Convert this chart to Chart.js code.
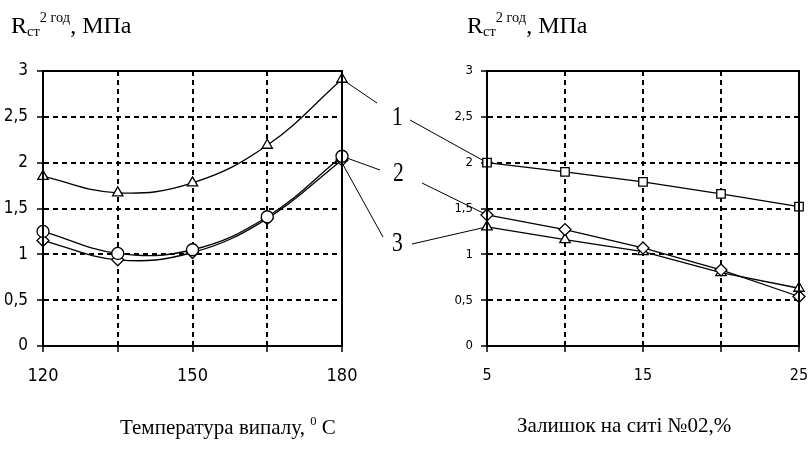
<!DOCTYPE html>
<html>
<head>
<meta charset="utf-8">
<script src="https://cdn.jsdelivr.net/npm/chart.js@4/dist/chart.umd.min.js"></script>
<style>
  body { margin: 0; background: #fff; }
  #wrap { position: relative; width: 811px; height: 449px; overflow: hidden; }
  #wrap canvas { position: absolute; left: 0; top: 0; }
  .txt { position: absolute; font-family: 'Liberation Serif', 'Times New Roman', serif; color: #000; white-space: nowrap; line-height: 1; }
  .txt sub { font-size: 0.6em; vertical-align: -0.25em; }
  .txt sup { font-size: 0.6em; vertical-align: 0.75em; }
  .ylab { font-size: 24px; top: 10px; }
  .xlab { font-size: 21px; top: 415px; }
  .num { font-size: 27px; transform: scaleX(0.8); transform-origin: left top; }
</style>
</head>
<body>
<div id="wrap">
  <canvas id="tempChart" width="811" height="449"></canvas>
  <canvas id="sieveChart" width="811" height="449"></canvas>
  <div class="txt ylab" style="left:11px">R<sub>ст</sub><sup>2 год</sup>, МПа</div>
  <div class="txt ylab" style="left:467px">R<sub>ст</sub><sup>2 год</sup>, МПа</div>
  <div class="txt xlab" style="left:120px">Температура випалу, <sup>0</sup> С</div>
  <div class="txt xlab" style="left:517px">Залишок на ситі №02,%</div>
  <div class="txt num" style="left:392px;top:103px">1</div>
  <div class="txt num" style="left:393px;top:159px">2</div>
  <div class="txt num" style="left:392px;top:229px">3</div>
</div>
<script>
// firing temperature, °C
const tempX = [120, 135, 150, 165, 180];
const tempCurve1 = [1.85, 1.67, 1.78, 2.19, 2.91];
const tempCurve2 = [1.25, 1.01, 1.05, 1.41, 2.07];
const tempCurve3 = [1.15, 0.94, 1.02, 1.39, 2.03];
const tempTickLabels = [120, 150, 180];

// residue on sieve No 02, %
const sieveX = [5, 10, 15, 20, 25];
const sieveCurve1 = [2.0, 1.9, 1.79, 1.66, 1.52];
const sieveCurve2 = [1.43, 1.27, 1.07, 0.83, 0.54];
const sieveCurve3 = [1.30, 1.16, 1.03, 0.80, 0.63];
const sieveTickLabels = [5, 15, 25];

const strengthTicks = [0, 0.5, 1, 1.5, 2, 2.5, 3];

const tickFont = "'Liberation Sans Narrow', 'DejaVu Sans Condensed', sans-serif";

function series(xs, ys, style, tension) {
    return {
        data: xs.map((x, i) => ({ x: x, y: ys[i] })),
        borderColor: '#000',
        borderWidth: 1.3,
        tension: tension,
        clip: false,
        pointStyle: style,
        pointRadius: 6,
        pointBorderWidth: 1.3,
        pointBorderColor: '#000',
        pointBackgroundColor: '#fff'
    };
}

// solid frame round the plot area, drawn over the markers
const framePlugin = {
    id: 'frame',
    afterDatasetsDraw(chart) {
        const a = chart.chartArea, ctx = chart.ctx;
        ctx.save();
        ctx.strokeStyle = '#000';
        ctx.lineWidth = 2;
        ctx.strokeRect(a.left, a.top, a.right - a.left, a.bottom - a.top);
        ctx.restore();
    }
};

// thin leader lines from the curve ends to the numbers 1, 2, 3
const leaderPlugin = {
    id: 'leaders',
    beforeDatasetsDraw(chart, args, opts) {
        const ctx = chart.ctx;
        ctx.save();
        ctx.strokeStyle = '#000';
        ctx.lineWidth = 1;
        opts.lines.forEach(l => {
            const pt = chart.getDatasetMeta(l.ds).data[l.idx];
            ctx.beginPath();
            ctx.moveTo(pt.x, pt.y + (l.dy || 0));
            ctx.lineTo(l.to[0], l.to[1]);
            ctx.stroke();
        });
        ctx.restore();
    }
};

function scales(xs, xLabels, xSize, ySize, yPad) {
    return {
        x: {
            type: 'linear',
            min: xs[0],
            max: xs[xs.length - 1],
            afterBuildTicks: s => { s.ticks = xs.map(v => ({ value: v })); },
            // keep the end labels from pushing the plot area inwards
            afterFit: s => { s.height = 40; s.paddingLeft = 0; s.paddingRight = 0; },
            ticks: {
                autoSkip: false,
                maxRotation: 0,
                padding: 14,
                color: '#000',
                font: { family: tickFont, size: xSize },
                callback: v => xLabels.includes(v) ? String(v) : ''
            },
            grid: { color: '#000', lineWidth: 2, tickLength: 6, tickWidth: 1.5, tickColor: '#000' },
            border: { color: '#000', width: 2, dash: [5, 4] }
        },
        y: {
            min: 0,
            max: 3,
            afterBuildTicks: s => { s.ticks = strengthTicks.map(v => ({ value: v })); },
            afterFit: s => { s.width = 38; },
            ticks: {
                padding: yPad,
                color: '#000',
                font: { family: tickFont, size: ySize },
                callback: v => String(v).replace('.', ',')
            },
            grid: { color: '#000', lineWidth: 2, tickLength: 6, tickWidth: 1.5, tickColor: '#000' },
            border: { color: '#000', width: 2, dash: [5, 4] }
        }
    };
}

const commonPlugins = {
    legend: { display: false },
    tooltip: { enabled: false }
};

new Chart(document.getElementById('tempChart'), {
    type: 'line',
    data: {
        datasets: [
            series(tempX, tempCurve1, 'triangle', 0.4),
            series(tempX, tempCurve2, 'circle', 0.4),
            series(tempX, tempCurve3, 'rectRot', 0.4)
        ]
    },
    options: {
        responsive: false,
        animation: false,
        layout: { padding: { left: 5, right: 469, top: 71, bottom: 63 } },
        scales: scales(tempX, tempTickLabels, 18, 17, 9),
        plugins: Object.assign({}, commonPlugins, {
            leaders: {
                lines: [
                    { ds: 0, idx: 4, to: [377, 103] },
                    { ds: 1, idx: 4, to: [380, 170] },
                    { ds: 2, idx: 4, dy: 3, to: [383, 237] }
                ]
            }
        })
    },
    plugins: [leaderPlugin, framePlugin]
});

new Chart(document.getElementById('sieveChart'), {
    type: 'line',
    data: {
        datasets: [
            series(sieveX, sieveCurve1, 'rect', 0),
            series(sieveX, sieveCurve2, 'rectRot', 0),
            series(sieveX, sieveCurve3, 'triangle', 0)
        ]
    },
    options: {
        responsive: false,
        animation: false,
        layout: { padding: { left: 449, right: 12, top: 71, bottom: 63 } },
        scales: scales(sieveX, sieveTickLabels, 16, 13, 8),
        plugins: Object.assign({}, commonPlugins, {
            leaders: {
                lines: [
                    { ds: 0, idx: 0, to: [410, 120] },
                    { ds: 1, idx: 0, to: [422, 183] },
                    { ds: 2, idx: 0, to: [412, 244] }
                ]
            }
        })
    },
    plugins: [leaderPlugin, framePlugin]
});
</script>
</body>
</html>
